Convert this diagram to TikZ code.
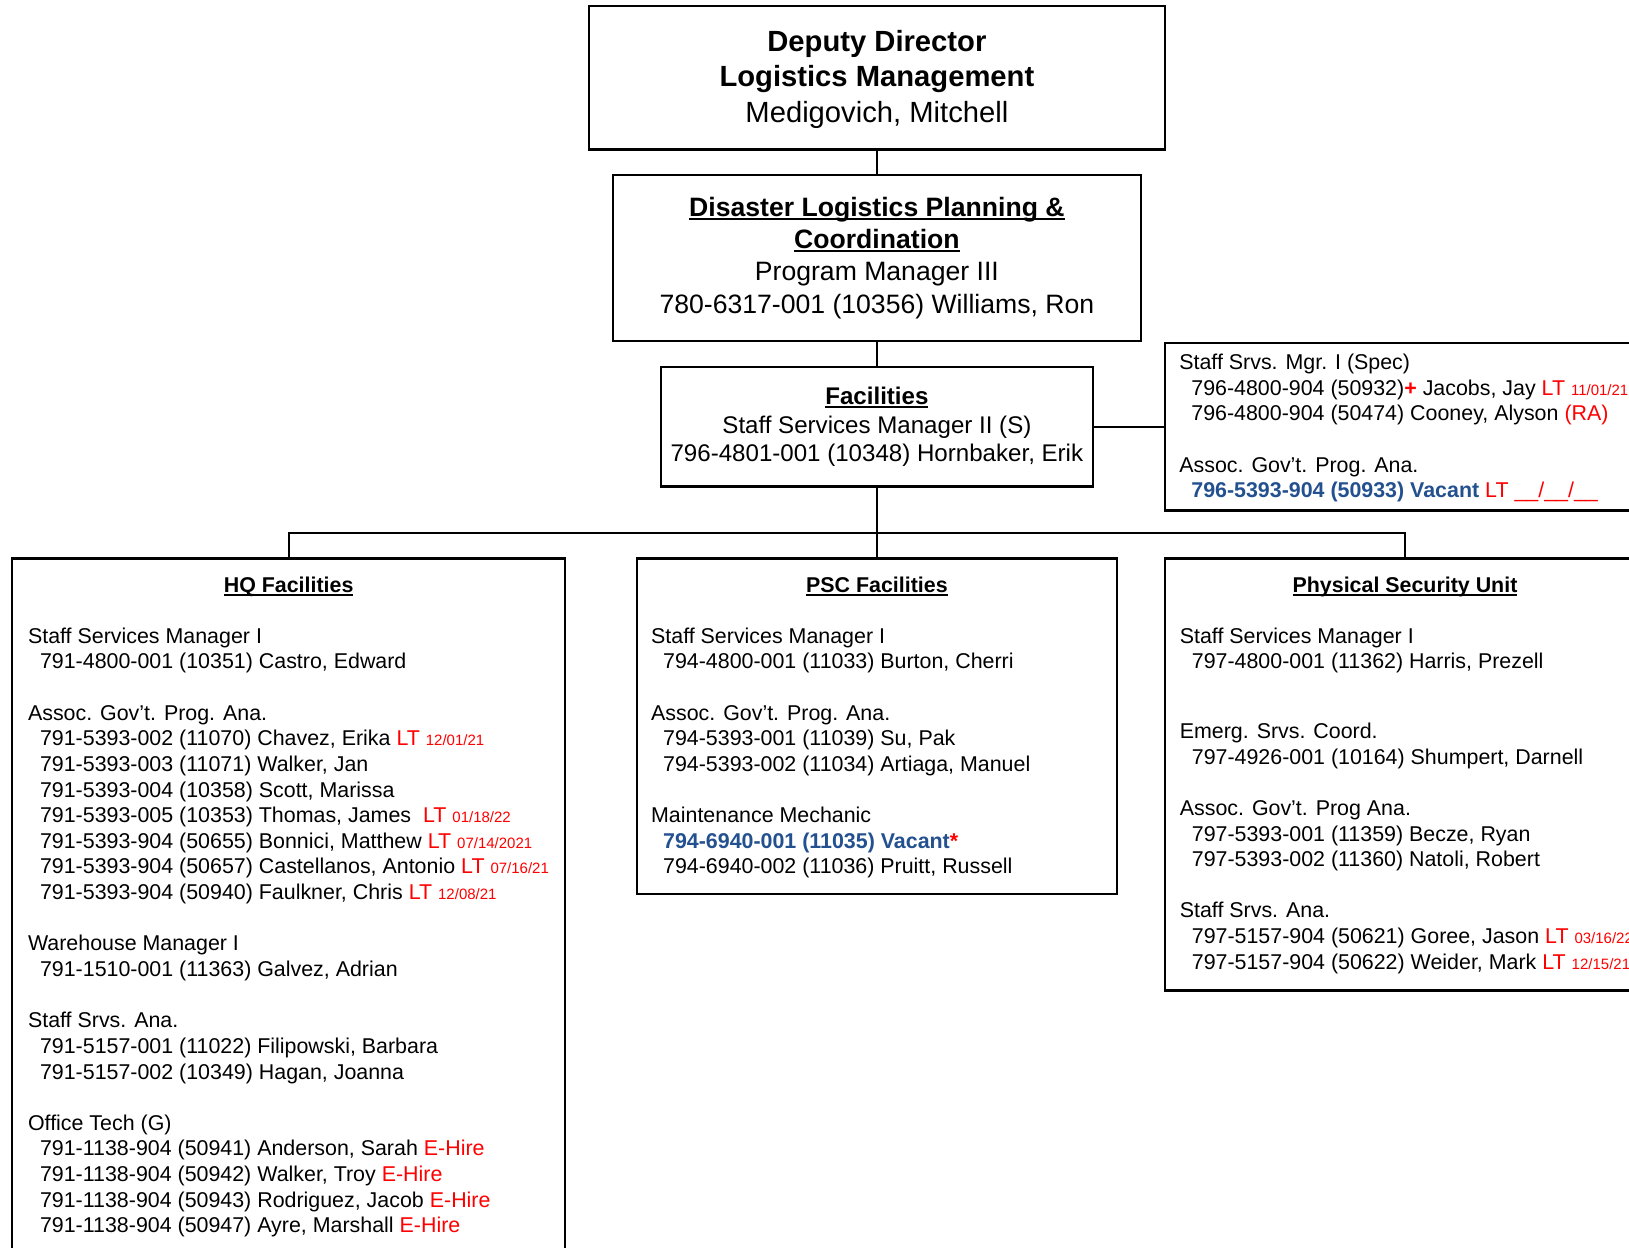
\documentclass[tikz,border=0pt]{standalone}
\usepackage{fontspec}
\setmainfont{Liberation Sans}
\usetikzlibrary{positioning}
\definecolor{ltred}{HTML}{FF0000}
\definecolor{vacantblue}{HTML}{23508F}
\newcommand{\bodyfont}{\fontsize{10.7}{12.82}\selectfont}
\newcommand{\datefont}{\fontsize{7.5}{9}\selectfont}
\newcommand{\ind}{\hspace*{6pt}}
\newcommand{\ltdate}[1]{\textcolor{ltred}{LT {\datefont #1}}}
\newcommand{\ehire}{\textcolor{ltred}{E-Hire}}
\newcommand{\vac}[1]{\textcolor{vacantblue}{\bfseries #1}}
\newsavebox{\ulbox}
\newcommand{\uhead}[1]{\sbox{\ulbox}{#1}\rlap{\usebox{\ulbox}}\rule[-1.6pt]{\wd\ulbox}{0.8pt}}
\newlength{\skipline}
\setlength{\skipline}{12.82pt}
\tikzset{
  orgbox/.style={draw, line width=1.15pt, inner sep=0pt, align=center},
  topbox/.style={orgbox, minimum width=287.8pt, minimum height=71.7pt, font=\fontsize{14.6}{17.65}\selectfont},
  planbox/.style={orgbox, minimum width=263.9pt, minimum height=83.15pt, font=\fontsize{13.3}{16.1}\selectfont},
  facbox/.style={orgbox, minimum width=216.1pt, minimum height=59.75pt, font=\fontsize{12.05}{14.3}\selectfont},
  unitbox/.style={draw, line width=1.15pt, inner sep=0pt, minimum width=240pt},
  unithead/.style={inner sep=0pt, anchor=base, font=\bodyfont\bfseries},
  unitlist/.style={inner sep=0pt, anchor=north west, align=left, font=\bodyfont},
  link/.style={line width=1pt}
}
\begin{document}
\begin{tikzpicture}
  \useasboundingbox (0,0) rectangle (814.5pt,-624pt);
  \clip (0,0) rectangle (814.5pt,-624pt);

  % top of the chart
  \node[topbox] (top) at (438.45pt,-38.95pt) {\rule{0pt}{12pt}\textbf{Deputy Director}\\\textbf{Logistics Management}\\Medigovich, Mitchell};
  \node[planbox, below=11.4pt of top] (plan) {\textbf{\uhead{Disaster Logistics Planning \&}}\\\textbf{\uhead{Coordination}}\\Program Manager III\\780-6317-001 (10356) Williams, Ron};
  \node[facbox, below=11.9pt of plan] (fac) {\textbf{\uhead{Facilities}}\\Staff Services Manager II (S)\\796-4801-001 (10348) Hornbaker, Erik};

  % staff box beside Facilities
  \node[unitbox, minimum height=83.65pt, right=34.8pt of fac] (spec) {};
  \node[unitlist] (speclist) at ([shift={(7.6pt,-5.8pt)}]spec.north west) {Staff Srvs. Mgr. I (Spec)\\
    \ind 796-4800-904 (50932)\textcolor{ltred}{\textbf{+}} Jacobs, Jay \ltdate{11/01/21}\\
    \ind 796-4800-904 (50474) Cooney, Alyson \textcolor{ltred}{(RA)}\\[\skipline]
    Assoc. Gov’t. Prog. Ana.\\
    \ind \vac{796-5393-904 (50933) Vacant} \textcolor{ltred}{LT \_\_/\_\_/\_\_}};

  % units
  \node[unitbox, minimum height=167.75pt, below=34.85pt of fac] (psc) {};
  \node[unitbox, minimum width=276.35pt, minimum height=348.5pt, anchor=north east] (hq) at ([xshift=-34.8pt]psc.north west) {};
  \node[unitbox, minimum height=216pt, anchor=north west] (psu) at ([xshift=22.9pt]psc.north east) {};

  \node[unithead] (hqhead) at ([yshift=-17.5pt]hq.north) {\uhead{HQ Facilities}};
  \node[unithead] (pschead) at ([yshift=-17.5pt]psc.north) {\uhead{PSC Facilities}};
  \node[unithead] (psuhead) at ([yshift=-17.5pt]psu.north) {\uhead{Physical Security Unit}};

  \node[unitlist] (hqlist) at ([shift={(8.25pt,-34.9pt)}]hq.north west) {Staff Services Manager I\\
    \ind 791-4800-001 (10351) Castro, Edward\\[\skipline]
    Assoc. Gov’t. Prog. Ana.\\
    \ind 791-5393-002 (11070) Chavez, Erika \ltdate{12/01/21}\\
    \ind 791-5393-003 (11071) Walker, Jan\\
    \ind 791-5393-004 (10358) Scott, Marissa\\
    \ind 791-5393-005 (10353) Thomas, James\ \ \ltdate{01/18/22}\\
    \ind 791-5393-904 (50655) Bonnici, Matthew \ltdate{07/14/2021}\\
    \ind 791-5393-904 (50657) Castellanos, Antonio \ltdate{07/16/21}\\
    \ind 791-5393-904 (50940) Faulkner, Chris \ltdate{12/08/21}\\[\skipline]
    Warehouse Manager I\\
    \ind 791-1510-001 (11363) Galvez, Adrian\\[\skipline]
    Staff Srvs. Ana.\\
    \ind 791-5157-001 (11022) Filipowski, Barbara\\
    \ind 791-5157-002 (10349) Hagan, Joanna\\[\skipline]
    Office Tech (G)\\
    \ind 791-1138-904 (50941) Anderson, Sarah \ehire\\
    \ind 791-1138-904 (50942) Walker, Troy \ehire\\
    \ind 791-1138-904 (50943) Rodriguez, Jacob \ehire\\
    \ind 791-1138-904 (50947) Ayre, Marshall \ehire};

  \node[unitlist] (psclist) at ([shift={(7.5pt,-34.9pt)}]psc.north west) {Staff Services Manager I\\
    \ind 794-4800-001 (11033) Burton, Cherri\\[\skipline]
    Assoc. Gov’t. Prog. Ana.\\
    \ind 794-5393-001 (11039) Su, Pak\\
    \ind 794-5393-002 (11034) Artiaga, Manuel\\[\skipline]
    Maintenance Mechanic\\
    \ind \vac{794-6940-001 (11035) Vacant}\textcolor{ltred}{\textbf{*}}\\
    \ind 794-6940-002 (11036) Pruitt, Russell};

  \node[unitlist] (psulist) at ([shift={(7.8pt,-34.9pt)}]psu.north west) {Staff Services Manager I\\
    \ind 797-4800-001 (11362) Harris, Prezell\\[22pt]
    Emerg. Srvs. Coord.\\
    \ind 797-4926-001 (10164) Shumpert, Darnell\\[\skipline]
    Assoc. Gov’t. Prog Ana.\\
    \ind 797-5393-001 (11359) Becze, Ryan\\
    \ind 797-5393-002 (11360) Natoli, Robert\\[\skipline]
    Staff Srvs. Ana.\\
    \ind 797-5157-904 (50621) Goree, Jason \ltdate{03/16/22}\\
    \ind 797-5157-904 (50622) Weider, Mark \ltdate{12/15/21}};

  % connectors
  \coordinate (bus) at ([yshift=12pt]psc.north);
  \draw[link] (top) -- (plan);
  \draw[link] (plan) -- (fac);
  \draw[link] (fac) -- (spec);
  \draw[link] (fac) -- (bus);
  \foreach \u in {hq,psc,psu}
    \draw[link] (bus) -| (\u.north);
\end{tikzpicture}
\end{document}
